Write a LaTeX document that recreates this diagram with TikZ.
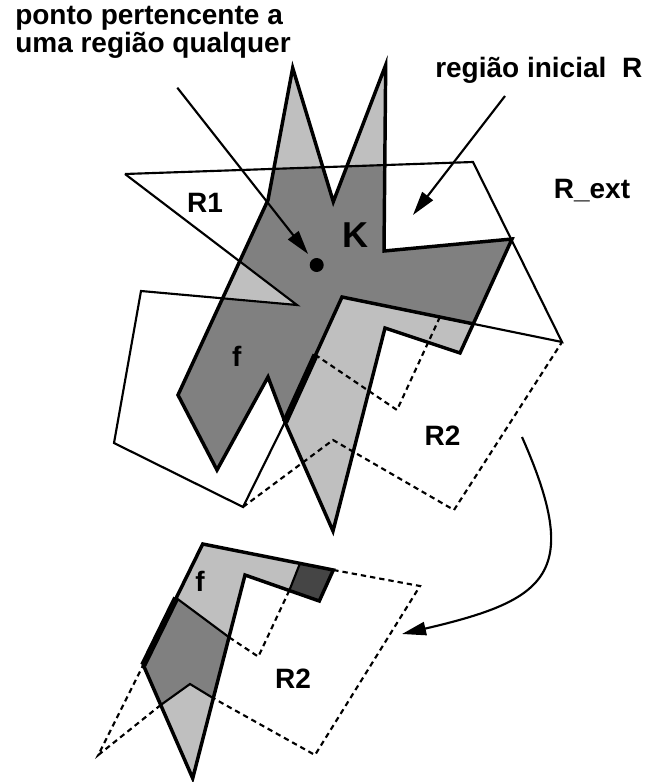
\documentclass[tikz,border=0pt]{standalone}
\usepackage{fontspec}
\setmainfont{Liberation Sans}
\usetikzlibrary{arrows.meta,calc}
\definecolor{cinzaclaro}{gray}{0.75}
\definecolor{cinzamedio}{gray}{0.5}
\definecolor{cinzaforte}{gray}{0.27}

\begin{document}
\begin{tikzpicture}[
  x=0.75pt, y=-0.75pt,
  bnd/.style={line width=1.6pt},
  kbnd/.style={line width=2.6pt},
  rtwo/.style={line width=1.6pt, dash pattern=on 4pt off 3pt},
  arr/.style={line width=1.6pt, -{Triangle[length=18pt,width=10pt]}},
  lbl/.style={font=\fontsize{21}{18}\selectfont\bfseries, inner sep=0pt}]
\useasboundingbox (0,0) rectangle (652,782);
% polygon K
\coordinate (P1) at (292.7,68);
\coordinate (P2) at (333.3,201.7);
\coordinate (P3) at (385.7,65);
\coordinate (P4) at (384,251);
\coordinate (P5) at (512,239);
\coordinate (P6) at (460,353);
\coordinate (P7) at (385,328);
\coordinate (P8) at (333,531);
\coordinate (P9) at (285,422);
\coordinate (P10) at (268,377);
\coordinate (P11) at (217,470);
\coordinate (P12) at (178,395);
\coordinate (P13) at (268,200);
% region boundaries
\coordinate (A1) at (125,174);
\coordinate (A2) at (473,162);
\coordinate (B2) at (562,342);
\coordinate (C0) at (342,297);
\coordinate (Rv) at (297,305);
\coordinate (E2) at (141,291);
\coordinate (F2) at (114,443);
\coordinate (G2) at (243,507);
% R2
\coordinate (Q2) at (333,440);
\coordinate (Q3) at (454,510);
\coordinate (Q5) at ($(C0)!0.445!(B2)$);
\coordinate (Q6) at (397,410);
\coordinate (Q7) at ($(C0)!0.464!(P9)$);
\coordinate (T1) at (intersection of P13--P1 and A1--A2);
\coordinate (T2) at (intersection of P1--P2 and A1--A2);
\coordinate (T3) at (intersection of P2--P3 and A1--A2);
\coordinate (T4) at (intersection of P3--P4 and A1--A2);
\coordinate (C1) at (intersection of P5--P6 and B2--C0);
\coordinate (E1) at (intersection of P12--P13 and Rv--E2);
\coordinate (D1) at (intersection of P12--P13 and A1--Rv);

\fill[cinzaclaro] (P1) -- (P2) -- (P3) -- (P4) -- (P5) -- (P6) -- (P7) -- (P8)
  -- (P9) -- (P10) -- (P11) -- (P12) -- (P13) -- cycle;
\fill[cinzamedio] (T1) -- (T2) -- (P2) -- (T3) -- (T4) -- (P4) -- (P5) -- (C1) -- (C0)
  -- (P9) -- (P10) -- (P11) -- (P12) -- (E1) -- (Rv) -- (D1) -- (P13) -- cycle;
\draw[bnd] (A1) -- (A2) -- (B2) -- (C0);
\draw[bnd] (A1) -- (Rv) -- (E2) -- (F2) -- (G2) -- (P9);
\draw[rtwo] (G2) -- (Q2) -- (Q3) -- (B2);
\draw[rtwo] (Q5) -- (Q6) -- (Q7);
\draw[kbnd] (P1) -- (P2) -- (P3) -- (P4) -- (P5) -- (P6) -- (P7) -- (P8)
  -- (P9) -- (P10) -- (P11) -- (P12) -- (P13) -- cycle;
\draw[kbnd] (C1) -- (C0) -- (P9);
\draw[line width=4.8pt] (P9) -- (Q7);

% lower copy: f and R2
\coordinate (L1) at (202.7,544);
\coordinate (L2) at (333.3,570);
\coordinate (L3) at (319.3,601);
\coordinate (L5) at (245,575);
\coordinate (L8) at (192.7,778.3);
\coordinate (L10) at (143.3,665);
\coordinate (M1) at ($(L1)!0.745!(L2)$);
\coordinate (M4) at ($(L3)!0.404!(L5)$);
\coordinate (N1) at ($(L10)!0.554!(L1)$);
\coordinate (N2) at ($(L5)!0.306!(L8)$);
\coordinate (N3) at ($(L5)!0.606!(L8)$);
\coordinate (N4) at (190,684);
\coordinate (N5) at ($(L10)!0.353!(L8)$);
\coordinate (D1b) at (420,586);
\coordinate (D2b) at (315,755);
\coordinate (D3b) at (98.3,755);
\coordinate (D4b) at (258.3,656.7);

\fill[cinzaclaro] (L1) -- (L2) -- (L3) -- (L5) -- (L8) -- (L10) -- cycle;
\fill[cinzaforte] (M1) -- (L2) -- (L3) -- (M4) -- cycle;
\fill[cinzamedio] (N1) -- (N2) -- (N3) -- (N4) -- (N5) -- (L10) -- cycle;
\draw[bnd] (M1) -- (M4);
\draw[bnd] (N1) -- (N2);
\draw[bnd] (N3) -- (N4) -- (N5);
\draw[rtwo] (L2) -- (D1b) -- (D2b) -- (N3);
\draw[rtwo] (N5) -- (D3b) -- (L10);
\draw[rtwo] (M4) -- (D4b) -- (N2);
\draw[kbnd] (L1) -- (L2) -- (L3) -- (L5) -- (L8) -- (L10) -- cycle;
\draw[line width=4.8pt] (L10) -- (N1);

% labels
\node[lbl, anchor=base west, align=left] (pto) at (15,52) {ponto pertencente a\\uma região qualquer};
\node[lbl, anchor=base west] (ini) at (435,77) {região inicial~~R};
\node[lbl, anchor=base] (r1) at (205,212.7) {R1};
\node[lbl, anchor=base, font=\fontsize{27}{27}\selectfont\bfseries] (k) at (355,247) {K};
\node[lbl, anchor=base] (rext) at (592,198.3) {R\_ext};
\node[lbl, anchor=base] (fa) at (236.7,366.7) {f};
\node[lbl, anchor=base] (r2a) at (442.5,445) {R2};
\node[lbl, anchor=base] (fb) at (200,591.7) {f};
\node[lbl, anchor=base] (r2b) at (293,688) {R2};

% point and arrows
\node[circle, fill, inner sep=0pt, minimum size=10.5pt] (pt) at (316.7,265) {};
\coordinate (s1) at (177.3,87.7);
\coordinate (s2) at (505,96);
\coordinate (e2) at (413,215);
\coordinate (s3) at (522,437);
\coordinate (e3) at (402,634);
\draw[arr, shorten >=5pt] (s1) -- (pt);
\draw[arr] (s2) -- (e2);
\draw[arr] (s3) .. controls (582.6,574) and (548,600) .. (e3);
\end{tikzpicture}
\end{document}
